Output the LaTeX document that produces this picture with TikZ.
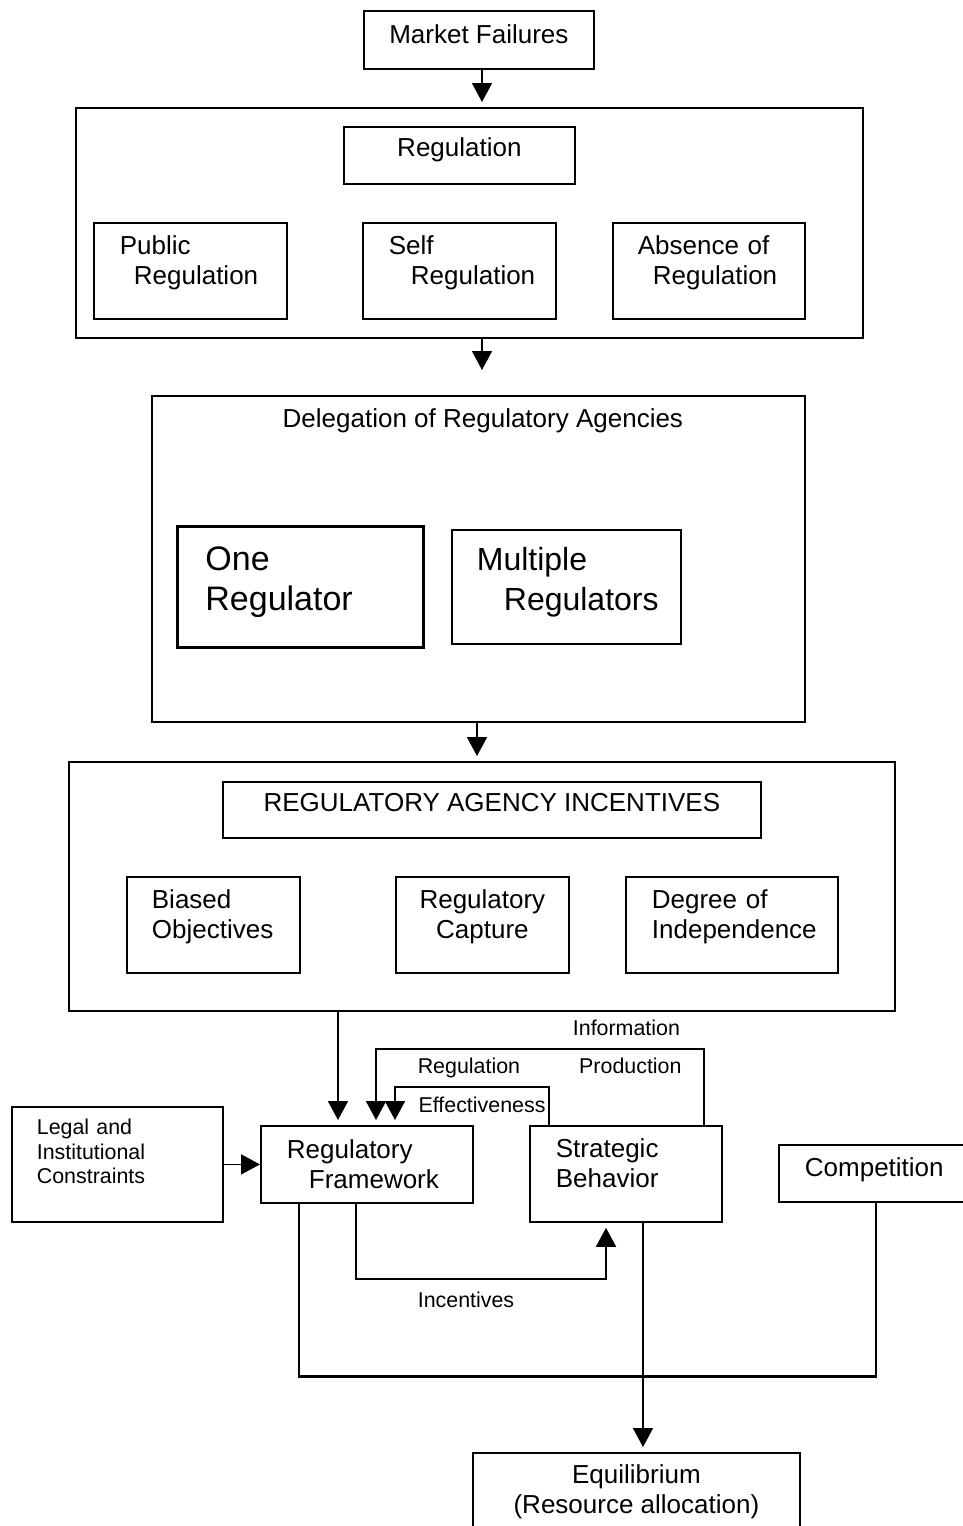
\documentclass[tikz,border=0pt]{standalone}
\usepackage{fontspec}
\setmainfont{Liberation Sans}
\usetikzlibrary{positioning,arrows.meta}
\newcommand{\padbelow}[1]{\rule[-#1]{0pt}{#1}}
\tikzset{
  box/.style={draw=black,line width=0.9pt,anchor=north west,inner sep=0pt},
  lbox/.style={box,align=left},
  cbox/.style={box,align=center},
  panel/.style={draw=black,line width=0.9pt,anchor=north west,inner sep=0pt},
  bigtext/.style={font=\fontsize{17}{20}\selectfont},
  smalltext/.style={font=\fontsize{10.7}{12.25}\selectfont},
  arr/.style={-{Triangle[length=9.5pt,width=10pt]},line width=0.9pt,shorten >=2.5pt},
  link/.style={line width=1.4pt},
  tag/.style={smalltext,inner sep=0pt}
}

\begin{document}
\begin{tikzpicture}[x=0.5pt,y=-0.5pt,font=\fontsize{13}{15}\selectfont]
  \useasboundingbox (0,0) rectangle (963,1526);
  % top
  \node[cbox,minimum width=115pt,minimum height=29pt] (mf) at (363,10) {Market Failures\padbelow{5.5pt}};
  \node[panel,minimum width=393.5pt,minimum height=115pt] (regpanel) at (75,107) {};
  \node[cbox,minimum width=115.5pt,minimum height=28.5pt] (reg) at (343,126) {Regulation\padbelow{8.7pt}};
  \node[lbox,minimum width=96.5pt,minimum height=48pt,inner xsep=13pt,text width=70.5pt] (public) at (93,222) {Public\\\hspace*{7pt}Regulation\padbelow{10.7pt}};
  \node[lbox,minimum width=96.5pt,minimum height=48pt,inner xsep=13pt,text width=70.5pt] (self) at (362,222) {Self\\\hspace*{11pt}Regulation\padbelow{10.7pt}};
  \node[lbox,minimum width=96pt,minimum height=48pt,inner xsep=12.5pt,text width=71pt] (absence) at (612,222) {Absence of\\\hspace*{7.5pt}Regulation\padbelow{10.7pt}};
  % delegation
  \node[panel,minimum width=326.5pt,minimum height=163pt] (deleg) at (151,395) {};
  \node[anchor=north,inner sep=0pt] (delegtitle) at ([xshift=2.25pt,yshift=-6.75pt]deleg.north) {Delegation of Regulatory Agencies};
  \node[lbox,bigtext,line width=1.4pt,minimum width=123pt,minimum height=60.5pt,inner xsep=14pt,text width=95pt] (one) at (176,525) {One\\Regulator\padbelow{8pt}};
  \node[lbox,font=\fontsize{16}{20}\selectfont,minimum width=114.5pt,minimum height=57pt,inner xsep=12.5pt,text width=89.5pt] (multiple) at (451,529) {Multiple\\\hspace*{13.5pt}Regulators\padbelow{8.5pt}};
  % incentives
  \node[panel,minimum width=413pt,minimum height=124.5pt] (incpanel) at (68,761) {};
  \node[cbox,minimum width=269pt,minimum height=28pt] (rai) at (222,781) {REGULATORY AGENCY INCENTIVES\padbelow{7pt}};
  \node[lbox,minimum width=86.5pt,minimum height=48pt,inner xsep=12.5pt,text width=61.5pt] (biased) at (126,876) {Biased\\Objectives\padbelow{10.7pt}};
  \node[cbox,minimum width=86.5pt,minimum height=48pt] (capture) at (395,876) {Regulatory\\Capture\padbelow{10.7pt}};
  \node[lbox,minimum width=106pt,minimum height=48pt,inner xsep=13pt,text width=80pt] (degree) at (625,876) {Degree of\\Independence\padbelow{10.7pt}};
  % bottom
  \node[lbox,smalltext,minimum width=105.5pt,minimum height=57.5pt,inner xsep=12.5pt,text width=80.5pt] (legal) at (11,1106) {Legal and\\Institutional\\Constraints\padbelow{13pt}};
  \node[lbox,minimum width=106pt,minimum height=38.5pt,inner xsep=13pt,text width=80pt] (rf) at (260,1125) {Regulatory\\\hspace*{11pt}Framework};
  \node[lbox,minimum width=96pt,minimum height=48pt,inner xsep=13pt,text width=70pt] (sb) at (529,1125) {Strategic\\Behavior\padbelow{10.5pt}};
  \node[lbox,minimum width=96pt,minimum height=28.5pt,inner xsep=13pt,text width=70pt] (comp) at (778,1144) {Competition\padbelow{6pt}};
  \node[cbox,minimum width=163.5pt,minimum height=48pt] (eq) at (472,1452) {Equilibrium\\(Resource allocation)\padbelow{11.7pt}};
  % connectors
  \coordinate (topaxis) at (482,0);
  \coordinate (midaxis) at (477,0);
  \draw[arr] (mf.south -| topaxis) -- (regpanel.north -| topaxis);
  \draw[arr,shorten >=12.5pt] (regpanel.south -| topaxis) -- (deleg.north -| topaxis);
  \draw[arr] (deleg.south -| midaxis) -- (incpanel.north -| midaxis);
  \coordinate (capin) at ([xshift=39pt]rf.north west);
  \coordinate (infoin) at ([xshift=58pt]rf.north west);
  \coordinate (effin) at ([xshift=67.5pt]rf.north west);
  \coordinate (incin) at ([xshift=38.5pt]sb.south west);
  \coordinate (eqout) at ([xshift=57pt]sb.south west);
  \draw[arr] (incpanel.south -| capin) -- (capin);
  \draw[arr,shorten >=0pt] (legal.east) -- (legal.east -| rf.west);
  \draw[arr] ([xshift=-9.5pt]sb.north east) -- ++(0,-76) -| node[tag,above=6.25pt,pos=0.118] (infolbl) {Information} node[tag,below=4pt,pos=0.112] (prodlbl) {Production} (infoin);
  \draw[arr] ([xshift=10pt]sb.north west) -- ++(0,-38) -| node[tag,above=4pt,pos=0.26] (reglbl) {Regulation} node[tag,below=4.5pt,pos=0.2175] (efflbl) {Effectiveness} (effin);
  \draw[arr] ([xshift=48pt]rf.south west) -- ++(0,75) -| node[tag,below=6pt,pos=0.22] (inclbl) {Incentives} (incin);
  \draw[link] ([xshift=19.5pt]rf.south west) -- ++(0,173) -| ([xshift=49pt]comp.south west);
  \draw[arr] (eqout) -- (eqout |- eq.north);
\end{tikzpicture}
\end{document}
